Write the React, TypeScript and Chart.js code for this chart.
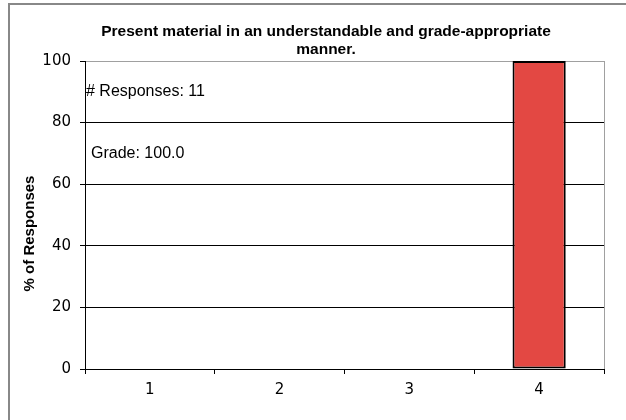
import React, { useEffect, useRef } from "react";
import { Chart, registerables } from "chart.js";

Chart.register(...registerables);

const categories = ["1", "2", "3", "4"];
const percentValues = [0, 0, 0, 100];
const titleLines = ["Present material in an understandable and grade-appropriate", "manner."];
const yAxisTitle = "% of Responses";
const responsesText = "# Responses: 11";
const gradeText = "Grade: 100.0";

const extrasPlugin = {
  id: "extras",
  afterDatasetsDraw(chart: any) {
    const { ctx, chartArea, scales } = chart;
    const y = scales.y;
    ctx.save();
    // right border of plot
    ctx.strokeStyle = "#a0a0a0";
    ctx.lineWidth = 1;
    ctx.beginPath();
    ctx.moveTo(Math.round(chartArea.right) + 0.5, chartArea.top);
    ctx.lineTo(Math.round(chartArea.right) + 0.5, chartArea.bottom);
    ctx.stroke();
    // chart title
    ctx.fillStyle = "#000";
    ctx.font = 'bold 15.5px "Liberation Sans", Arial, sans-serif';
    ctx.textAlign = "center";
    ctx.textBaseline = "middle";
    titleLines.forEach((line, i) => ctx.fillText(line, 326, 32 + i * 18));
    // annotations
    ctx.font = '16px "Liberation Sans", Arial, sans-serif';
    ctx.textAlign = "left";
    ctx.fillText(responsesText, chartArea.left + 1, y.getPixelForValue(90));
    ctx.fillText(gradeText, chartArea.left + 6, y.getPixelForValue(70));
    // y axis title
    ctx.font = 'bold 15px "Liberation Sans", Arial, sans-serif';
    ctx.textAlign = "center";
    ctx.translate(30, y.getPixelForValue(44));
    ctx.rotate(-Math.PI / 2);
    ctx.fillText(yAxisTitle, 0, 0);
    ctx.restore();
  },
};

export default function App() {
  const ref = useRef<HTMLCanvasElement | null>(null);
  useEffect(() => {
    if (!ref.current) return;
    const chart = new Chart(ref.current, {
      type: "bar",
      data: {
        labels: categories,
        datasets: [
          {
            data: percentValues,
            backgroundColor: "#E34843",
            borderColor: "#000",
            borderWidth: 2,
            borderSkipped: false,
            barPercentage: 0.41,
            categoryPercentage: 1,
          },
        ],
      },
      options: {
        animation: false,
        responsive: false,
        devicePixelRatio: 1,
        layout: { padding: { left: 8, right: 22, top: 61, bottom: 0 } },
        plugins: {
          legend: { display: false },
          tooltip: { enabled: false },
          title: { display: false },
        },
        scales: {
          x: {
            offset: true,
            grid: {
              display: true,
              drawOnChartArea: false,
              drawTicks: true,
              tickLength: 5,
              tickColor: "#000",
              color: "#000",
            },
            border: { display: true, color: "#000", width: 1 },
            ticks: {
              color: "#000",
              padding: 7,
              font: { family: '"DejaVu Sans", sans-serif', size: 15 },
            },
            afterFit(scale: any) {
              scale.height = 51;
            },
          },
          y: {
            min: 0,
            max: 100,
            ticks: {
              stepSize: 20,
              color: "#000",
              padding: 9,
              font: { family: '"DejaVu Sans", sans-serif', size: 15 },
            },
            grid: {
              color: (c: any) => (c.tick && c.tick.value === 100 ? "#a0a0a0" : "#000"),
              tickColor: "#000",
              tickLength: 5,
              lineWidth: 1,
            },
            border: { display: true, color: "#000", width: 1 },
            afterFit(scale: any) {
              scale.width = 77;
            },
          },
        },
      },
      plugins: [extrasPlugin],
    });
    return () => chart.destroy();
  }, []);

  return (
    <div style={{ position: "fixed", left: 0, top: 0, width: 626, height: 420, overflow: "hidden", background: "#fff" }}>
      <div
        style={{
          position: "absolute",
          left: 8,
          top: 3,
          width: 700,
          height: 500,
          borderTop: "2px solid #888",
          borderLeft: "2px solid #888",
          boxSizing: "border-box",
        }}
      />
      <canvas ref={ref} width={626} height={420} style={{ position: "absolute", left: 0, top: 0, width: 626, height: 420 }} />
    </div>
  );
}
